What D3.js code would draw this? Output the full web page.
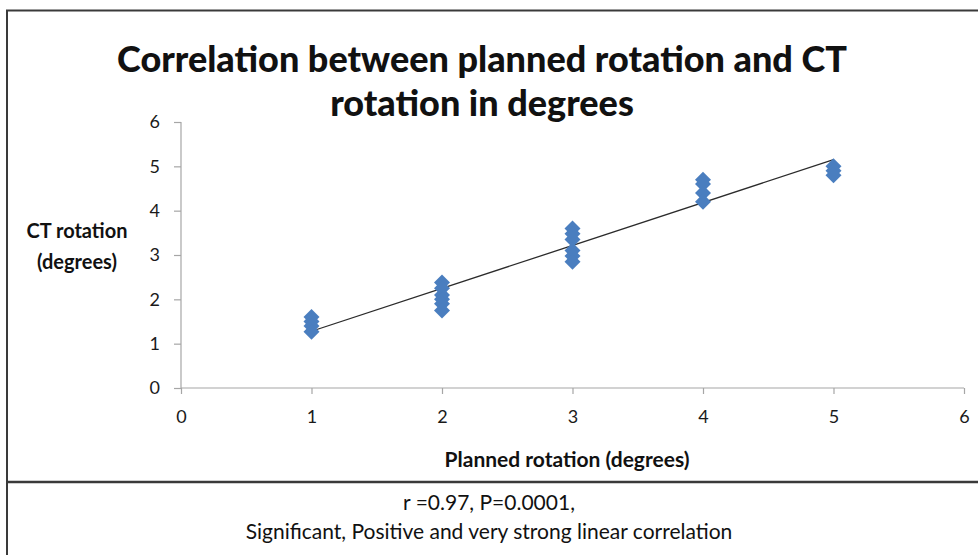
<!DOCTYPE html>
<html>
<head>
<meta charset="utf-8">
<script src="https://cdn.jsdelivr.net/npm/d3@7"></script>
<style>
  body { margin: 0; background: #fff; }
  svg { display: block; font-family: Lato, "Open Sans", sans-serif; }
</style>
</head>
<body>
<div class="visualisation"></div>
<script>
// planned rotation (x) and CT rotation (y)
const plannedX = [1, 1, 1, 1,
  2, 2, 2, 2, 2, 2,
  3, 3, 3, 3, 3, 3,
  4, 4, 4, 4,
  5, 5, 5];
const ctY = [1.6, 1.5, 1.4, 1.27,
  2.38, 2.25, 2.1, 2.0, 1.9, 1.75,
  3.6, 3.48, 3.35, 3.1, 2.98, 2.85,
  4.7, 4.6, 4.4, 4.2,
  5.0, 4.9, 4.8];
// linear trend line end points
const trendX = [1, 5];
const trendY = [1.28, 5.15];
const xTicks = [0, 1, 2, 3, 4, 5, 6];
const yTicks = [0, 1, 2, 3, 4, 5, 6];
const titleLines = ["Correlation between planned rotation and CT", "rotation in degrees"];
const yLabelLines = ["CT rotation", "(degrees)"];
const xLabel = "Planned rotation (degrees)";
const captionLines = ["r =0.97, P=0.0001,", "Significant, Positive and very strong linear correlation"];

const wdth = 978, hght = 555;

const svg = d3.select(".visualisation")
  .append("svg")
  .attr("width", wdth)
  .attr("height", hght);

// frame and separator
svg.append("path")
  .attr("d", `M7,${hght} V10.5 H${wdth}`)
  .attr("fill", "none")
  .attr("stroke", "#3a3a3a")
  .attr("stroke-width", 2);
svg.append("line")
  .attr("x1", 7).attr("x2", wdth)
  .attr("y1", 482).attr("y2", 482)
  .attr("stroke", "#3a3a3a")
  .attr("stroke-width", 2.5);

const x = d3.scaleLinear().domain([0, 6]).range([181, 964]);
const y = d3.scaleLinear().domain([0, 6]).range([388, 122]);

// axes
const xAxis = svg.append("g")
  .attr("transform", `translate(0,${y(0)})`)
  .call(d3.axisBottom(x).tickValues(xTicks).tickSize(6).tickPadding(16).tickFormat(d3.format("d")));
const yAxis = svg.append("g")
  .attr("transform", `translate(${x(0)},0)`)
  .call(d3.axisLeft(y).tickValues(yTicks).tickSize(7).tickPadding(14).tickFormat(d3.format("d")));

[xAxis, yAxis].forEach(g => {
  g.select(".domain").attr("stroke", "#a6a6a6").attr("stroke-width", 1.2);
  g.selectAll(".tick line").attr("stroke", "#a6a6a6").attr("stroke-width", 1.2);
  g.selectAll(".tick text")
    .attr("fill", "#1a1a1a")
    .style("font-size", "18px")
    .style("font-family", "Lato, sans-serif");
});
xAxis.select(".domain").attr("d", `M${x(0)},0H${x(6)}`);
yAxis.select(".domain").attr("d", `M0,${y(6)}V${y(0)}`);

// trend line
svg.append("path")
  .datum(trendX.map((d, i) => [d, trendY[i]]))
  .attr("fill", "none")
  .attr("stroke", "#2b2b2b")
  .attr("stroke-width", 1.3)
  .attr("d", d3.line().x(d => x(d[0])).y(d => y(d[1])));

// diamonds
svg.selectAll("path.pt")
  .data(plannedX.map((d, i) => [d, ctY[i]]))
  .enter()
  .append("path")
  .attr("class", "pt")
  .attr("transform", d => `translate(${x(d[0])},${y(d[1])}) rotate(45)`)
  .attr("d", d3.symbol().type(d3.symbolSquare).size(128))
  .attr("fill", "#4a7ebf");

// title
svg.append("text")
  .attr("text-anchor", "middle")
  .attr("font-weight", "900")
  .attr("font-size", 36)
  .attr("fill", "#111")
  .selectAll("tspan")
  .data(titleLines)
  .enter()
  .append("tspan")
  .attr("x", 482)
  .attr("y", (d, i) => 72 + i * 44)
  .text(d => d);

// y label
svg.append("text")
  .attr("text-anchor", "middle")
  .attr("font-weight", "bold")
  .attr("font-size", 20)
  .attr("fill", "#111")
  .selectAll("tspan")
  .data(yLabelLines)
  .enter()
  .append("tspan")
  .attr("x", 77)
  .attr("y", (d, i) => 238 + i * 31)
  .text(d => d);

// x label
svg.append("text")
  .attr("x", 567).attr("y", 467)
  .attr("text-anchor", "middle")
  .attr("font-weight", "bold")
  .attr("font-size", 21)
  .attr("fill", "#111")
  .text(xLabel);

// caption
svg.append("text")
  .attr("text-anchor", "middle")
  .attr("font-size", 21)
  .attr("fill", "#111")
  .selectAll("tspan")
  .data(captionLines)
  .enter()
  .append("tspan")
  .attr("x", 489)
  .attr("y", (d, i) => 510 + i * 29)
  .text(d => d);
</script>
</body>
</html>
